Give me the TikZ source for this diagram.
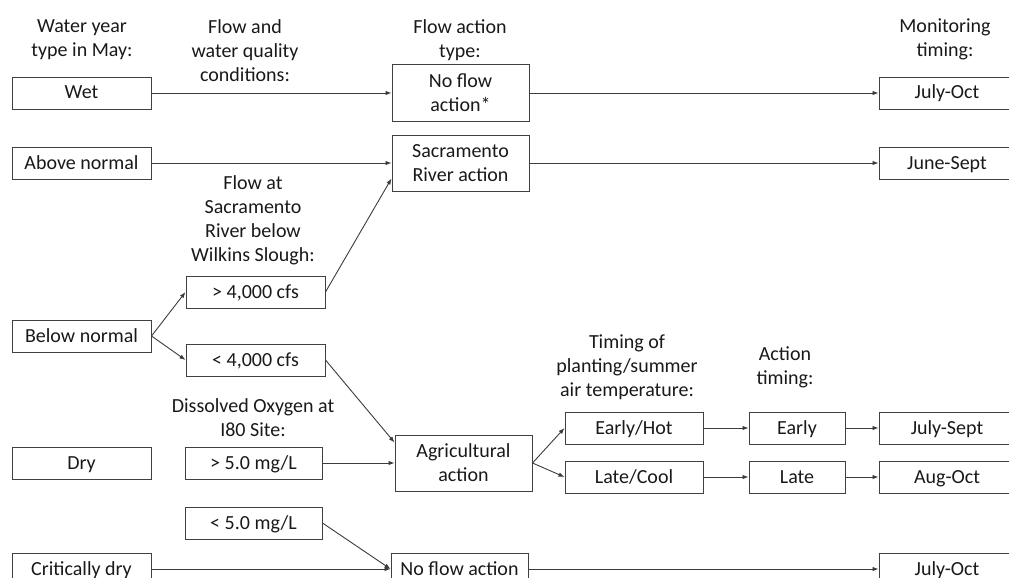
\documentclass[tikz,border=0pt]{standalone}
\usepackage{fontspec}
\setmainfont{Carlito}
\usepackage{tikz}
\usetikzlibrary{arrows.meta, positioning}
\definecolor{boxgray}{RGB}{64, 64, 64}
\definecolor{linegray}{RGB}{60, 60, 60}

\begin{document}
\begin{tikzpicture}[
    x=1pt, y=-1pt,
    font=\fontsize{20}{24}\selectfont,
    hdr/.style={align=center, anchor=north, inner sep=0pt, text=black!90},
    frame/.style={draw=boxgray, line width=1pt, minimum width=139pt,
                  inner sep=0pt, align=center, text=black!90},
    cond/.style={frame, minimum height=32pt, text height=16pt, text depth=4pt},
    act/.style={frame, minimum width=137pt, minimum height=56pt},
    arrow/.style={-{Latex[length=6pt, width=4.5pt]}, line width=0.9pt, linegray}
]
    \useasboundingbox (0,0) rectangle (1009,578);

    \node[hdr] (hyear) at (82,19) {Water year\\type in May:};
    \node[hdr] (hcond) at (245,19) {Flow and\\water quality\\conditions:};
    \node[hdr] (htype) at (460,19) {Flow action\\type:};
    \node[hdr] (hmon) at (945,19) {Monitoring\\timing:};

    \node[cond] (wet) at (81.5,93) {Wet};
    \node[cond, below=37pt of wet] (abovenorm) {Above normal};
    \node[cond, below=140pt of abovenorm] (belownorm) {Below normal};
    \node[cond, below=94pt of belownorm] (dry) {Dry};
    \node[cond, below=73pt of dry] (critdry) {Critically dry};

    \node[act, right=240pt of wet] (noflow) {No flow\\action*};
    \node[act, right=240pt of abovenorm] (sacriver) {Sacramento\\River action};
    \node[cond, minimum width=136pt, right=349pt of noflow] (monwet) {July-Oct};
    \node[cond, minimum width=136pt, right=349pt of sacriver] (monabove) {June-Sept};

    \node[hdr] (hflow) at (253,175) {Flow at\\Sacramento\\River below\\Wilkins Slough:};
    \node[cond] (highflow) at (255.5,292) {> 4,000 cfs};
    \node[cond, below=35pt of highflow] (lowflow) {< 4,000 cfs};

    \node[hdr] (hoxy) at (253,398) {Dissolved Oxygen at\\I80 Site:};
    \node[cond, minimum width=137pt, right=33pt of dry] (highdo) {> 5.0 mg/L};
    \node[cond, minimum width=137pt, below=27pt of highdo] (lowdo) {< 5.0 mg/L};
    \node[act, right=72pt of highdo] (agri) {Agricultural\\action};
    \node[cond, minimum width=137pt, right=239pt of critdry] (noflowcd) {No flow action};
    \node[cond, minimum width=136pt, right=350pt of noflowcd] (moncd) {July-Oct};

    \node[hdr] (hplant) at (627,335) {Timing of\\planting/summer\\air temperature:};
    \node[hdr] (hact) at (785,346) {Action\\timing:};
    \node[cond, minimum width=138pt] (earlyhot) at (634,428) {Early/Hot};
    \node[cond, minimum width=138pt] (latecool) at (634,477) {Late/Cool};
    \node[cond, minimum width=96pt, right=45pt of earlyhot] (early) {Early};
    \node[cond, minimum width=96pt, right=45pt of latecool] (late) {Late};
    \node[cond, minimum width=136pt, right=33pt of early] (monearly) {July-Sept};
    \node[cond, minimum width=136pt, right=33pt of late] (monlate) {Aug-Oct};

    \draw[arrow] (wet) -- (noflow);
    \draw[arrow] (noflow) -- (monwet);
    \draw[arrow] (abovenorm) -- (sacriver);
    \draw[arrow] (sacriver) -- (monabove);
    \draw[arrow] (belownorm.east) -- (highflow.west);
    \draw[arrow] (belownorm.east) -- (lowflow.west);
    \draw[arrow] (highflow.east) -- ([yshift=13pt]sacriver.south west);
    \draw[arrow] (lowflow.east) -- ([yshift=-8pt]agri.north west);
    \draw[arrow] (highdo) -- (agri);
    \draw[arrow] (lowdo.east) -- (noflowcd.west);
    \draw[arrow] (critdry) -- (noflowcd);
    \draw[arrow] (noflowcd) -- (moncd);
    \draw[arrow] (agri.east) -- (earlyhot.west);
    \draw[arrow] (agri.east) -- (latecool.west);
    \draw[arrow] (earlyhot) -- (early);
    \draw[arrow] (latecool) -- (late);
    \draw[arrow] (early) -- (monearly);
    \draw[arrow] (late) -- (monlate);
\end{tikzpicture}
\end{document}
